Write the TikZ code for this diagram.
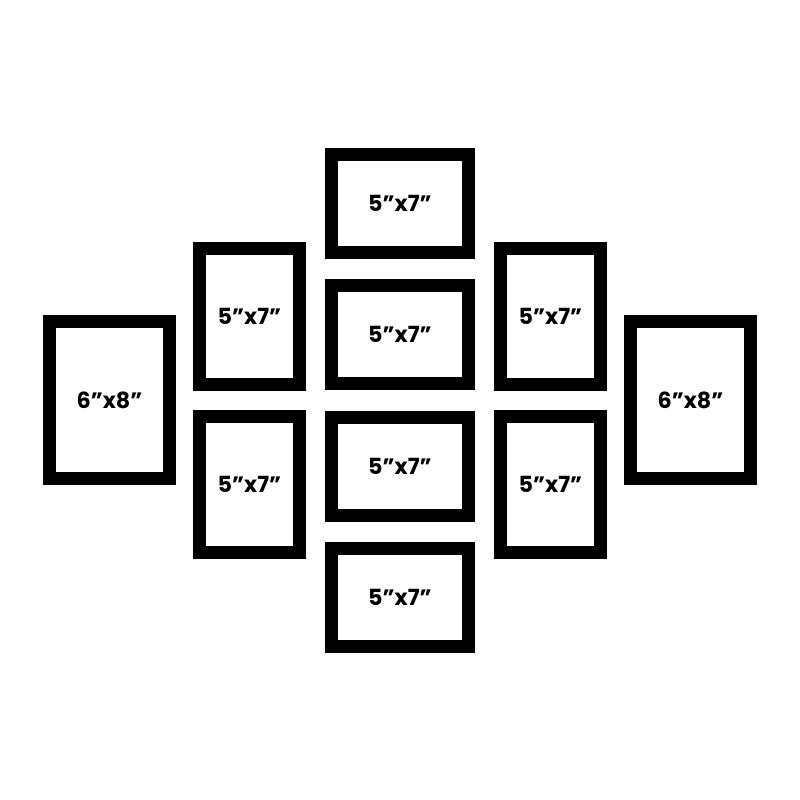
\documentclass[tikz,border=0pt]{standalone}
\usepackage{fontspec}
\setmainfont{Poppins}[BoldFont={* Bold}]
\usetikzlibrary{positioning}
\tikzset{
  frame/.style={draw=black, line width=0.39cm, inner sep=0pt, align=center, font=\fontsize{19}{22}\selectfont\bfseries},
  land/.style={frame, minimum width=4.11cm, minimum height=2.94cm},
  port/.style={frame, minimum width=3.0cm, minimum height=4.08cm},
  big/.style={frame, minimum width=3.6cm, minimum height=4.71cm}
}
\begin{document}
\begin{tikzpicture}[x=0.03cm, y=-0.03cm]
\useasboundingbox (0,0) rectangle (800,800);
\node [land] (top) at (400,203.5) {5”x7”};
\node [land] (midup) at (400,334) {5”x7”};
\node [land] (middown) at (400,466) {5”x7”};
\node [land] (bottom) at (400,597.5) {5”x7”};
\node [port] (leftup) at (249.5,316.5) {5”x7”};
\node [port] (leftdown) at (249.5,484.5) {5”x7”};
\node [port] (rightup) at (550.5,316.5) {5”x7”};
\node [port] (rightdown) at (550.5,484.5) {5”x7”};
\node [big] (farleft) at (109.5,400) {6”x8”};
\node [big] (farright) at (690.5,400) {6”x8”};
\end{tikzpicture}
\end{document}
